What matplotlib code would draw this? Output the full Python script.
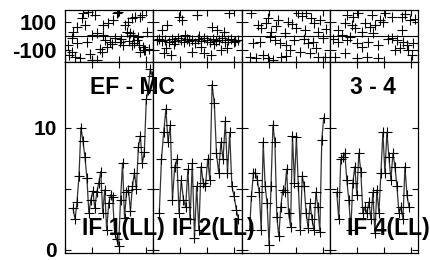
import numpy as np
import matplotlib
matplotlib.use("Agg")
import matplotlib.pyplot as plt
from matplotlib.ticker import MultipleLocator

plt.rcParams['font.family'] = ['Liberation Sans', 'DejaVu Sans']
plt.rcParams['font.weight'] = 'bold'
plt.rcParams['axes.unicode_minus'] = False

# bottom panels: value per sample (evenly spaced within each block)
b1 = [3.4, 2.5, 3.9, 6.0, 10.0, 8.9, 7.6, 5.9, 3.0, 4.1, 4.8, 3.4, 4.7, 5.5, 6.4, 3.0, 4.9,
      1.6, 3.8, 4.5, 4.3, 1.4, 0.9, 0.3, 4.1, 7.1, 2.6, 4.7, 4.9, 3.2, 5.2, 6.3, 5.0, 8.4,
      9.3, 7.1, 8.0, 12.3, 13.1, 14.8, 14.2]
b2 = [3.0, 7.4, 9.6, 11.5, 8.8, 10.2, 4.1, 6.8, 7.4, 3.0, 5.7, 4.1, 3.5, 6.6, 2.5, 7.1, 1.0,
      5.2, 1.6, 6.8, 5.5, 5.2, 7.4, 5.7, 13.5, 12.0, 7.9, 6.3, 8.8, 7.4, 10.5, 6.3, 9.6, 5.2,
      4.4, 3.3, 2.5]
b3 = [1.6, 4.4, 6.3, 6.3, 5.7, 4.7, 1.6, 8.8, 5.2, 3.8, 0.4, 5.2, 10.2, 8.8, 2.7, 1.1, 3.5,
      4.9, 4.7, 6.6, 3.0, 1.9, 9.3, 5.5, 9.2, 5.2, 1.6, 6.0, 5.2, 3.0, 1.8, 3.8, 2.5, 1.6, 4.7,
      3.5, 1.5, 9.0, 10.8]
b4 = [4.7, 2.5, 7.4, 7.6, 7.9, 5.7, 4.1, 1.6, 5.5, 6.8, 4.5, 7.9, 6.4, 3.0, 3.5, 3.0, 3.9,
      2.5, 4.7, 1.4, 4.9, 3.0, 6.3, 9.6, 6.3, 9.6, 7.6, 5.7, 7.9, 6.8, 5.2, 3.0, 3.5, 2.5, 6.8,
      4.5, 3.5]
b_start = [8, 6, 8, 7]
b_end = [87, 85, 82, 79]

# top panels: phase points (x within block, value in degrees)
t1x = [7, 7, 8, 10, 12, 12, 15, 17, 18, 20, 22, 23, 27, 27, 30, 32, 32, 37, 38, 38, 42, 43, 45,
       48, 50, 52, 53, 55, 58, 60, 62, 63, 65, 67, 67, 68, 70, 72, 73, 75, 75, 77, 78, 80, 82,
       25, 35, 40, 47, 56, 64, 69, 74, 79, 84, 3, 4]
t1y = [-14, -111, 28, -145, 62, -48, -152, 125, 159, 76, -42, 166, 7, -166, 145, 21, -166, -111,
       7, 76, -76, 90, -42, 111, -14, 159, 166, -42, -62, 76, 28, 97, 21, 125, -62, 7, 132, -28,
       -7, 132, -111, 145, -76, -97, 28, -125, -90, -30, -55, -20, -35, -45, -60, -100, -90,
       -60, -130]
t2x = [9, 11, 13, 14, 18, 26, 29, 39, 44, 48, 51, 58, 59, 64, 68, 71, 74, 76, 81,
       4, 6, 9, 12, 16, 19, 22, 25, 28, 31, 34, 36, 39, 42, 45, 48, 51, 54, 57, 60, 63, 66,
       69, 72, 75, 78, 82, 85, 32, 46, 21, 61]
t2y = [41, -118, -83, 76, -132, 132, 111, -111, 145, -76, -118, -132, 62, 41, -97, 28, -83,
       159, -42, -28, -21, -35, -28, -42, -21, -35, -14, -28, -42, -21, -35, -28, -48, -21, -35,
       -14, -28, -42, -21, -35, -28, -14, -42, -28, -21, -35, -28, 7, 0, -55, -55]
t3x = [9, 16, 19, 26, 36, 46, 56, 64, 69, 78, 29, 43, 54, 63, 76, 11, 18, 8, 14, 21, 31, 39,
       48, 58, 66, 71, 81, 76, 83, 33, 38, 24, 34, 50, 60, 72, 84, 28, 44, 52, 62, 74, 26, 44, 68]
t3y = [159, 76, 55, 125, 111, 97, 159, 159, 125, 111, 28, 21, 55, 41, 28, -48, -42, -145, -152,
       -132, -166, -145, -97, -111, -48, -42, -14, -145, -145, -28, -48, 90, 70, 80, 140, 90,
       50, -10, -60, -30, -20, -80, -150, -140, -120]
t4x = [17, 23, 28, 42, 55, 62, 72, 80, 15, 22, 35, 45, 53, 8, 25, 32, 43, 72, 62, 8, 17, 27,
       32, 38, 67, 73, 5, 15, 27, 37, 48, 65, 70, 78, 83, 77, 12, 20, 40, 50, 58, 75, 85, 3, 48, 82]
t4y = [145, 132, 159, 145, 159, 132, 132, 111, 90, 76, 90, 76, 97, 41, 55, 28, 21, 41, -14, -42,
       -28, -48, -76, -42, -28, -42, -145, -118, -152, -145, -152, -97, -83, -97, -48, -62, 10,
       -10, 60, 110, -20, 150, 120, -20, -60, -130]

bottoms = [b1, b2, b3, b4]
tops = [(t1x, t1y), (t2x, t2y), (t3x, t3y), (t4x, t4y)]

fig, axes = plt.subplots(2, 4, figsize=(4.3, 2.6), dpi=100,
                         gridspec_kw=dict(height_ratios=[52, 191], wspace=0, hspace=0,
                                          left=65/430, right=418/430,
                                          top=1-10/260, bottom=1-253/260))

for j in range(4):
    at = axes[0, j]
    ab = axes[1, j]
    tx, ty = tops[j]
    at.plot(tx, ty, '+', color='black', ms=7, mew=0.8)
    at.axhline(0, color='black', lw=0.8)
    at.set_ylim(-180, 180)
    at.set_yticks([-100, 100])

    y = bottoms[j]
    x = np.linspace(b_start[j], b_end[j], len(y))
    ab.plot(x, y, '-', color='#333333', lw=0.9)
    ab.plot(x, y, '+', color='black', ms=7, mew=0.8)
    ab.set_ylim(-0.25, 15.35)
    ab.set_yticks([0, 5, 10])
    ab.set_yticklabels(['0', '', '10'])

    for ax, ls in ((at, 16), (ab, 15)):
        ax.set_xlim(0, 88)
        ax.xaxis.set_major_locator(MultipleLocator(27))
        ax.tick_params(direction='in', top=True, right=True, length=4, width=0.8,
                       labelbottom=False, labelleft=(j == 0), labelsize=ls, pad=6)
        for s in ax.spines.values():
            s.set_linewidth(0.9)

fig.text(90/430, 1-88/260, 'EF - MC', fontsize=16.5, fontweight='bold', va='center')
fig.text(350/430, 1-88/260, '3 - 4', fontsize=16.5, fontweight='bold', va='center')
fig.text(82/430, 1-228/260, 'IF 1(LL)', fontsize=16.5, fontweight='bold', va='center')
fig.text(172/430, 1-228/260, 'IF 2(LL)', fontsize=16.5, fontweight='bold', va='center')
fig.text(347/430, 1-228/260, 'IF 4(LL)', fontsize=16.5, fontweight='bold', va='center')

fig.savefig('out.png', dpi=100)
